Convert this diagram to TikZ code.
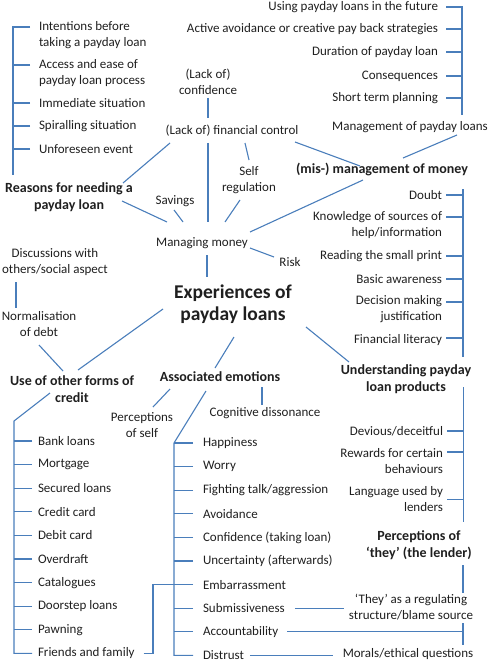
\documentclass[tikz,border=0pt]{standalone}
\usepackage{fontspec}
\setmainfont{Carlito}
\usetikzlibrary{calc}
\definecolor{lineblue}{RGB}{74,126,187}
\begin{document}
\begin{tikzpicture}[x=1pt,y=-1pt,
  every node/.style={inner sep=0pt, outer sep=0pt, font=\fontsize{13}{16}\selectfont, text=black!88},
  lbl/.style={align=center},
  litem/.style={anchor=west, align=left},
  ritem/.style={anchor=east, align=right},
  head/.style={align=center, font=\fontsize{14}{17}\selectfont\bfseries},
  title/.style={align=center, font=\fontsize{19.5}{22}\selectfont\bfseries},
  conn/.style={draw=lineblue, line width=1.1pt, line join=miter}]
\useasboundingbox (0,0) rectangle (489,663);

% ---------- top-left list ----------
\node[litem] (i1) at (39,35) {Intentions before\\taking a payday loan};
\node[litem] (i2) at (39,73) {Access and ease of\\payday loan process};
\node[litem] (i3) at (39,103) {Immediate situation};
\node[litem] (i4) at (39,126) {Spiralling situation};
\node[litem] (i5) at (39,149) {Unforeseen event};
\coordinate (lsB) at (13,175);
\draw[conn] ([shift={(-9,-8)}]i1.west) -| (lsB);
\draw[conn] ([shift={(-9,-8)}]i2.west) -- ++(-17,0);
\foreach \n in {3,4,5} \draw[conn] ([xshift=-9pt]i\n.west) -- ++(-17,0);

% ---------- top-right list ----------
\node[ritem] (r1) at (438,7) {Using payday loans in the future};
\node[ritem] (r2) at (438,29) {Active avoidance or creative pay back strategies};
\node[ritem] (r3) at (438,52) {Duration of payday loan};
\node[ritem] (r4) at (438,76) {Consequences};
\node[ritem] (r5) at (438,98) {Short term planning};
\node (mpl) at (410,127) {Management of payday loans};
\coordinate (rsB) at (462,115);
\draw[conn] ([xshift=8pt]r1.east) -| (rsB);
\foreach \n in {2,...,5} \draw[conn] ([xshift=8pt]r\n.east) -- ++(16,0);

% ---------- central upper part ----------
\node[lbl] (conf) at (208,81.5) {(Lack of)\\confidence};
\node (lfc) at (232,131) {(Lack of) financial control};
\node[head] (reasons) at (69,197.5) {Reasons for needing a\\payday loan};
\node[head] (mis) at (382,169) {(mis-) management of money};
\node[lbl] (self) at (249,180) {Self\\regulation};
\node (sav) at (175,201) {Savings};
\node (mm) at (202,243) {Managing money};
\node (risk) at (290,262) {Risk};

\draw[conn] ([shift={(0,16.5)}]conf.center) -- ([shift={(-24,-13)}]lfc.center);
\draw[conn] ([shift={(-24,12)}]lfc.center) -- ([shift={(6,-21)}]mm.center);
\draw[conn] ([shift={(-62,12)}]lfc.center) -- ([shift={(54,-14.5)}]reasons.center);
\draw[conn] ([shift={(53,3.5)}]reasons.center) -- ([shift={(-35,-21)}]mm.center);
\draw[conn] ([shift={(-1,9)}]sav.center) -- ([shift={(-19,-21)}]mm.center);
\draw[conn] ([shift={(13,12)}]lfc.center) -- ([shift={(0,-20)}]self.center);
\draw[conn] ([shift={(-9,20)}]self.center) -- ([shift={(23,-21)}]mm.center);
\draw[conn] ([shift={(48,5)}]mm.center) -- ([shift={(-16,-5)}]risk.center);
\draw[conn] ([shift={(48,-11)}]mm.center) -- ([shift={(-19,11)}]mis.center);
\draw[conn] ([shift={(63,11)}]lfc.center) -- ([shift={(-22,-3)}]mis.center);
\draw[conn] ([shift={(47,8)}]mpl.center) -- ([shift={(21,-11)}]mis.center);

% ---------- right middle list ----------
\node[ritem] (k1) at (442,195) {Doubt};
\node[ritem] (k2) at (442,225) {Knowledge of sources of\\help/information};
\node[ritem] (k3) at (442,256) {Reading the small print};
\node[ritem] (k4) at (442,279) {Basic awareness};
\node[ritem] (k5) at (442,309.5) {Decision making\\justification};
\node[ritem] (k6) at (442,340) {Financial literacy};
\coordinate (msT) at (463,189);
\coordinate (msB) at (463,357);
\draw[conn] (msT) -- (msB);
\draw[conn] ([xshift=4pt]k1.east) -- ++(17,0);
\draw[conn] ([shift={(4,-8)}]k2.east) -- ++(17,0);
\draw[conn] ([xshift=4pt]k3.east) -- ++(17,0);
\draw[conn] ([xshift=4pt]k4.east) -- ++(17,0);
\draw[conn] ([shift={(4,-7.5)}]k5.east) -- ++(17,0);
\draw[conn] ([shift={(4,-2)}]k6.east) -- ++(17,0);

% ---------- centre ----------
\node[lbl] (disc) at (55,262.5) {Discussions with\\others/social aspect};
\node[lbl] (norm) at (39,324) {Normalisation\\of debt};
\node[title] (exp) at (233,304) {Experiences of\\payday loans};
\node[head] (use) at (72,389.5) {Use of other forms of\\credit};
\node[head] (assoc) at (220,377) {Associated emotions};
\node[head] (und) at (406,379) {Understanding payday\\loan products};
\node[lbl] (pself) at (142,425.5) {Perceptions\\of self};
\node (cog) at (265,413) {Cognitive dissonance};

\draw[conn] ([shift={(5,12)}]mm.center) -- ([shift={(-26,-27)}]exp.center);
\draw[conn] ([shift={(-70,5)}]exp.center) -- ([shift={(6,-19.5)}]use.center);
\draw[conn] ([shift={(0,21)}]norm.center) -- ([shift={(-9,-18.5)}]use.center);
\draw[conn] ([shift={(-39,19.5)}]disc.center) -- ([shift={(-23,-16)}]norm.center);
\draw[conn] ([shift={(1,33)}]exp.center) -- ([shift={(-5,-9)}]assoc.center);
\draw[conn] ([shift={(73,23)}]exp.center) -- ([shift={(-57,-17)}]und.center);
\draw[conn] ([shift={(-50,12)}]assoc.center) -- ([shift={(11,-18.5)}]pself.center);
\draw[conn] ([shift={(42,10)}]assoc.center) -- ([shift={(-3,-8)}]cog.center);

% ---------- credit list ----------
\foreach \t [count=\n] in {Bank loans,Mortgage,Secured loans,Credit card,Debit card,Overdraft,Catalogues,Doorstep loans,Pawning,Friends and family}
  \node[litem] (c\n) at (38,{441+23.6*(\n-1)}) {\t};
\coordinate (cT) at (14,421);
\draw[conn] ([shift={(-22,3.5)}]use.center) -- (cT) |- ([xshift=-6pt]c10.west);
\foreach \n in {1,...,9} \draw[conn] ([xshift=-6pt]c\n.west) -- ++(-18,0);

% ---------- emotions list ----------
\foreach \t [count=\n] in {Happiness,Worry,Fighting talk/aggression,Avoidance,Confidence (taking loan),Uncertainty (afterwards),Embarrassment,Submissiveness,Accountability,Distrust}
  \node[litem] (e\n) at (203,{443+23.6*(\n-1)}) {\t};
\coordinate (eT) at (174,443);
\draw[conn] ([shift={(-14,14)}]assoc.center) -- (eT) |- ([xshift=-10pt]e10.west);
\foreach \n in {1,...,9} \draw[conn] ([xshift=-10pt]e\n.west) -- (eT |- e\n.west);

% Friends and family -> Embarrassment
\coordinate (fj) at (153,0);
\draw[conn] ([xshift=9pt]c10.east) -| (fj |- e7.west) -- (eT |- e7.west);

% ---------- lender list ----------
\node[ritem] (l1) at (443,431) {Devious/deceitful};
\node[ritem] (l2) at (443,461) {Rewards for certain\\behaviours};
\node[ritem] (l3) at (443,499.5) {Language used by\\lenders};
\node[head] (perc) at (419,545) {Perceptions of\\‘they’ (the lender)};
\node[lbl] (they) at (411,607) {‘They’ as a regulating\\structure/blame source};
\node (mor) at (408,654) {Morals/ethical questions};
\coordinate (uT) at (463.5,387);
\coordinate (uB) at (463.5,522);
\draw[conn] (uT) -- (uB);
\draw[conn] ([xshift=4pt]l1.east) -- ++(17,0);
\draw[conn] ([shift={(4,-9)}]l2.east) -- ++(17,0);
\draw[conn] ([xshift=4pt]l3.east) -- ++(17,0);

\draw[conn] ([shift={(44,20)}]perc.center) -- ([shift={(52,-14)}]they.center);
\draw[conn] ([shift={(52,16)}]they.center) -- ([shift={(55,-9)}]mor.center);
\draw[conn] ([xshift=9pt]e9.east) -- (e9.east -| uT);
\draw[conn] ([xshift=10pt]e8.east) -- ($(e8.east -| they.west)+(-5,0)$);
\draw[conn] ([xshift=6pt]e10.east) -- ($(e10.east -| mor.west)+(-10,0)$);
\end{tikzpicture}
\end{document}
